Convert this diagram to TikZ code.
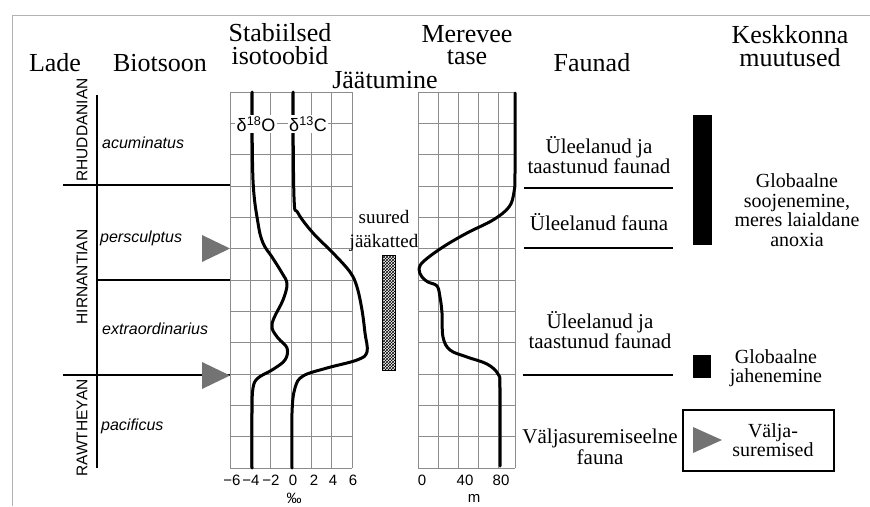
\documentclass[tikz,border=0pt]{standalone}
\usepackage{fontspec}
\setmainfont{Liberation Serif}
\setsansfont{Liberation Sans}
\usepackage{tikz}
\usetikzlibrary{patterns}
\tikzset{
	hdr/.style={align=center, font=\fontsize{26}{22.5}\selectfont, inner sep=0pt},
	fauna/.style={align=center, font=\fontsize{21}{20.5}\selectfont, inner sep=0pt},
	muutus/.style={align=center, font=\fontsize{20}{19.5}\selectfont, inner sep=0pt},
	zone/.style={anchor=west, font=\sffamily\itshape\fontsize{16}{16}\selectfont, inner sep=0pt},
	stage/.style={rotate=90, font=\sffamily\fontsize{15.5}{16}\selectfont, inner sep=0pt},
	tick/.style={font=\sffamily\fontsize{15}{15}\selectfont, inner sep=0pt},
	gridline/.style={black!45, line width=0.7pt},
	curve/.style={line width=3pt, line join=round, line cap=round},
	extinct/.style={fill=black!55, draw=none}
}
\begin{document}
\begin{tikzpicture}[x=1pt, y=-1pt]
		\useasboundingbox (0,0) rectangle (870,506);
		\draw[black!30, line width=1pt] (12,506) -- (12,15) -- (870,15);
		\node[hdr] (lade) at (55,63) {Lade};
		\node[hdr] (biotsoon) at (160,63) {Biotsoon};
		\node[hdr] (isotoobid) at (280,44) {Stabiilsed\\isotoobid};
		\node[hdr] (jaatumine) at (385,80) {Jäätumine};
		\node[hdr] (merevee) at (467,45) {Merevee\\tase};
		\node[hdr] (faunad) at (592,63) {Faunad};
		\node[hdr] (keskkond) at (790,46) {Keskkonna\\muutused};
		\node[stage] (rhuddanian) at (82,130) {RHUDDANIAN};
		\node[stage] (hirnantian) at (82,277) {HIRNANTIAN};
		\node[stage] (rawtheyan) at (82,428) {RAWTHEYAN};
		\node[zone] (acuminatus) at (102,143) {acuminatus};
		\node[zone] (persculptus) at (100,238) {persculptus};
		\node[zone] (extraordinarius) at (102,329) {extraordinarius};
		\node[zone] (pacificus) at (101,426) {pacificus};
		\draw[line width=1.6pt] (97,95) -- (97,468);
		\draw[line width=2.6pt] (63,185) -- (230,185);
		\draw[line width=1.2pt] (97,280) -- (230,280);
		\draw[line width=1.8pt] (63,375) -- (230,375);
		\fill[extinct] (202,235) -- (230,248.5) -- (202,262) -- cycle;
		\fill[extinct] (202,362) -- (230,375.5) -- (202,389) -- cycle;
		\foreach \i in {0,...,6}
			\draw[gridline] (230+20.33*\i,92) -- (230+20.33*\i,468);
		\foreach \j in {0,...,12}
			\draw[gridline] (230,92+31.33*\j) -- (352,92+31.33*\j);
		\foreach \x in {418,438,458,478,498,515}
			\draw[gridline] (\x,92) -- (\x,468);
		\foreach \j in {0,...,12}
			\draw[gridline] (418,92+31.33*\j) -- (515,92+31.33*\j);
		\draw[curve] plot[smooth, tension=0.6] coordinates {(252,92) (253,180) (258,223) (263,243) (272,257) (282,273) (287,284) (283,300) (274,318) (272,328) (278,338) (287,348) (285,360) (272,370) (258,378) (253,388) (252,413) (252,468)};
		\draw[curve] plot[smooth, tension=0.6] coordinates {(293,92) (294,197) (298,213) (313,233) (333,253) (350,272) (357,287) (362,310) (365,333) (367,352) (357,360) (327,368) (303,376) (295,388) (292,413) (292,468)};
		\node[fill=white, inner sep=1.5pt, font=\sffamily\fontsize{18}{18}\selectfont] (d18o) at (256,124) {δ\textsuperscript{18}O};
		\node[fill=white, inner sep=1.5pt, font=\sffamily\fontsize{18}{18}\selectfont] (d13c) at (308,124) {δ\textsuperscript{13}C};
		\draw[curve] plot[smooth, tension=0.6] coordinates {(515,93) (515,173) (514,192) (509,207) (493,220) (467,233) (443,247) (424,261) (419,269) (422,277) (428,282) (437,286) (440,297) (442,313) (443,337) (450,350) (467,357) (487,364) (498,374) (500,388) (500,466)};
		\node[tick] (tm6) at (232,480) {−6};
		\node[tick] (tm4) at (251,480) {−4};
		\node[tick] (tm2) at (271,480) {−2};
		\node[tick] (t0) at (293,480) {0};
		\node[tick] (t2) at (314,480) {2};
		\node[tick] (t4) at (333,480) {4};
		\node[tick] (t6) at (353,480) {6};
		\node[tick] (promill) at (294,498) {‰};
		\node[tick] (s0) at (422,480) {0};
		\node[tick] (s40) at (465,480) {40};
		\node[tick] (s80) at (501,480) {80};
		\node[tick] (meeter) at (474,498) {m};
		\draw[pattern=crosshatch, line width=1pt] (382,255) rectangle (395,370);
		\node[align=center, inner sep=0pt, font=\fontsize{19}{24}\selectfont] (jaakatted) at (384,231) {suured\\jääkatted};
		\node[fauna] (fauna1) at (599,155) {Üleelanud ja\\taastunud faunad};
		\node[fauna] (fauna2) at (599,222) {Üleelanud fauna};
		\node[fauna] (fauna3) at (600,330) {Üleelanud ja\\taastunud faunad};
		\node[fauna] (fauna4) at (600,447) {Väljasuremiseelne\\fauna};
		\draw[line width=1.2pt] (524,188) -- (673,188);
		\draw[line width=1.2pt] (524,248) -- (673,248);
		\draw[line width=1.2pt] (523,375) -- (673,375);
		\fill (693,115) rectangle (712,245);
		\node[muutus] (soojenemine) at (797,210) {Globaalne\\soojenemine,\\meres laialdane\\anoxia};
		\fill (693,355) rectangle (711,378);
		\node[muutus] (jahenemine) at (776,368) {Globaalne\\jahenemine};
		\draw[line width=1.5pt] (683,410) rectangle (834,471);
		\fill[extinct] (693,427) -- (722,440) -- (693,453) -- cycle;
		\node[muutus] (valjasuremised) at (773,440) {Välja-\\suremised};
	\end{tikzpicture}
\end{document}
